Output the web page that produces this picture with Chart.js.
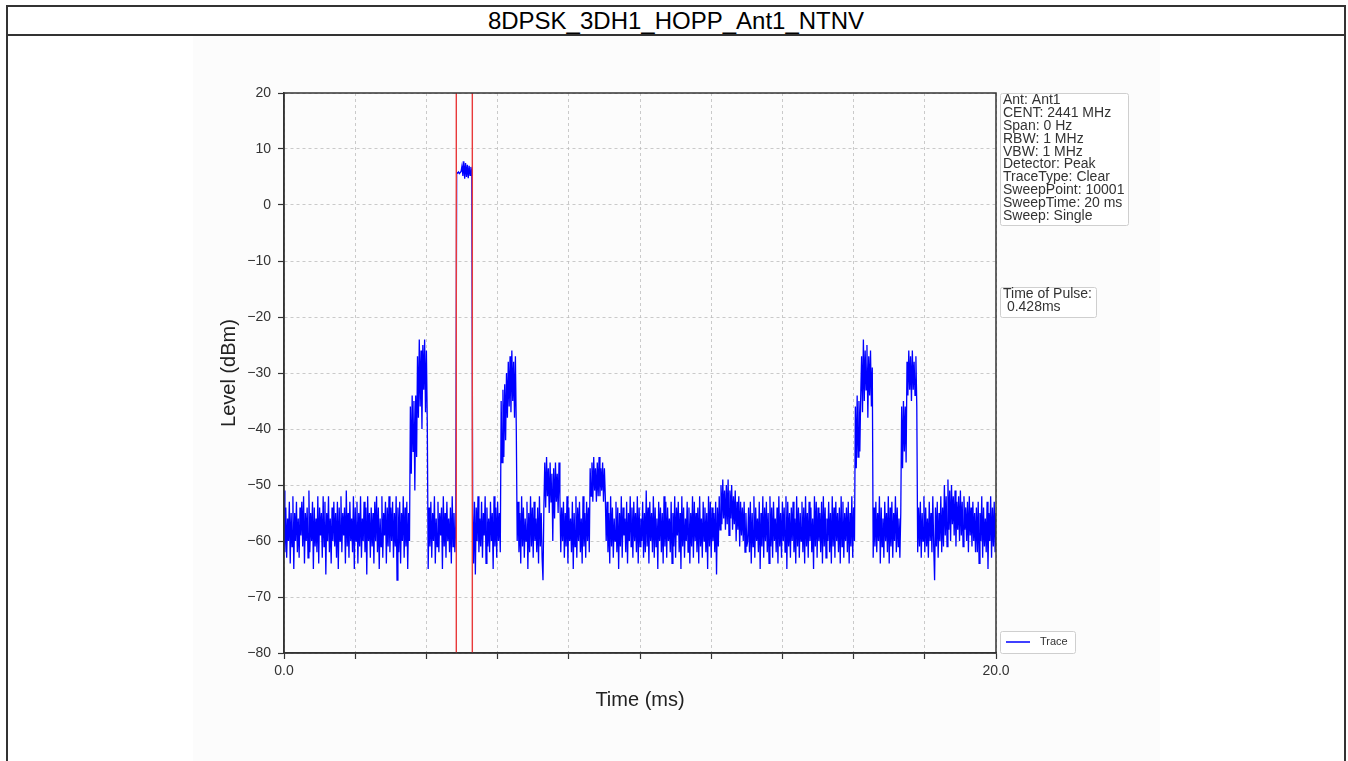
<!DOCTYPE html>
<html>
<head>
<meta charset="utf-8">
<script src="https://cdn.jsdelivr.net/npm/chart.js@4.4.1/dist/chart.umd.min.js"></script>
<style>
body { margin: 0; background: #fff; font-family: "Liberation Sans", Arial, sans-serif; }
#frame { position: absolute; left: 6px; top: 5px; width: 1336px; height: 800px; border: 2px solid #333; border-bottom: none; }
#title { height: 27px; border-bottom: 2px solid #333; text-align: center; font-size: 24px; line-height: 28px; color: #000; overflow: hidden; }
#fig { position: absolute; left: 193px; top: 36px; width: 967px; height: 725px; background: #fcfcfc; }
</style>
</head>
<body>
<div id="frame"><div id="title">8DPSK_3DH1_HOPP_Ant1_NTNV</div></div>
<div id="fig"><canvas id="chart" width="967" height="725" style="width:967px;height:725px"></canvas></div>
<script>
// sweep, ms (start / stop); trace samples are evenly spaced across it
var sweepMs = [0, 20];

// trace level, dBm (0.025 ms per sample)
var traceLevels = [
  // noise 0 - 3.5 ms
  -51, -62, -54, -63, -56, -60, -53, -64, -55, -61,
  -52, -65, -55, -60, -53, -62, -56, -63, -54, -59,
  -53, -61, -52, -64, -55, -60, -54, -63, -51, -62,
  -55, -60, -53, -65, -54, -61, -56, -62, -52, -64,
  -54, -59, -55, -63, -52, -61, -53, -66, -55, -60,
  -52, -62, -56, -64, -54, -60, -53, -61, -55, -63,
  -53, -65, -54, -60, -52, -62, -55, -59, -54, -64,
  -51, -61, -55, -63, -53, -60, -56, -62, -52, -65,
  -54, -60, -53, -64, -55, -61, -52, -63, -56, -60,
  -53, -62, -54, -66, -52, -60, -55, -63, -54, -61,
  -55, -64, -53, -60, -52, -62, -54, -65, -56, -61,
  -52, -63, -55, -59, -53, -64, -54, -61, -52, -62,
  -54, -60, -53, -63, -55, -61, -52, -67, -54, -62,
  -53, -64, -55, -60, -52, -63, -54, -61, -53, -65,
  -55, -60,
  // burst 1
  -36, -48, -34, -44, -35, -51, -34, -45,
  -27, -38, -24, -36, -26, -40, -25, -33, -24, -37, -26, -39,
  // noise
  -65, -54, -61, -53, -63, -55, -60, -52, -64, -56,
  -61, -53, -62, -55, -59, -54, -65, -52, -61, -55,
  -63, -53, -60, -56, -62, -54, -64, -52, -61, -55,
  -62, -57,
  // measured pulse
  5.8, 5.7, 5.9, 5.6, 5.8, 6.0, 7.0, 5.2, 7.8, 4.7, 7.5, 5.0, 7.2, 4.8, 7.0, 5.3, 6.8, 5.9,
  // noise
  -55, -64, -53, -66, -54, -60, -52, -62, -56, -61,
  -53, -63, -55, -59, -52, -64, -54, -61, -56, -62,
  -53, -60, -55, -65, -52, -61, -54, -63, -53, -60,
  -55, -62,
  // burst 2
  -35, -46, -33, -45, -32, -42, -30,
  -38, -28, -36, -27, -37, -26, -35, -28, -38, -27, -40,
  // noise
  -60, -53, -62, -55, -64, -52, -61, -54, -63, -56,
  -60, -53, -65, -55, -62, -52, -61, -54, -63, -53,
  -60, -56, -62, -54, -64, -52, -61, -55, -63, -67,
  -54,
  // bump
  -46, -54, -45, -52, -47, -55, -46, -53, -48, -60,
  -47, -56, -46, -53, -48, -55, -46, -52,
  // noise
  -62, -54, -60, -53, -63, -55, -61, -52, -64, -54,
  -60, -56, -62, -53, -65, -55, -61, -52, -63, -54,
  -60, -53, -62, -56, -64, -52, -61, -55, -63, -53,
  -60, -54, -62,
  // bump
  -47, -52, -46, -53, -45, -51, -47, -53, -46, -52,
  -45, -52, -47, -51, -46, -53, -47, -52,
  // noise
  -60, -53, -62, -55, -64, -52, -61, -54, -63, -56,
  -60, -53, -62, -54, -65, -55, -61, -52, -63, -54,
  -59, -56, -62, -53, -64, -55, -60, -52, -61, -54,
  -63, -53, -60, -55, -62, -52, -64, -54, -61, -56,
  -60, -53, -63, -55, -62, -51, -61, -54, -64, -53,
  -60, -55, -62, -52, -63, -54, -61, -56, -65, -53,
  -60, -54, -62, -55, -64, -52, -61, -53, -63, -54,
  -60, -56, -62, -53, -64, -55, -61, -52, -63, -54,
  -59, -53, -62, -55, -65, -52, -61, -54, -63, -56,
  -60, -53, -62, -54, -64, -55, -61, -52, -63, -53,
  -60, -55, -62, -54, -64, -52, -61, -56, -63, -53,
  -60, -54, -62, -55, -65, -52, -61, -53, -63, -54,
  -60, -55, -62, -53, -66, -54, -61,
  // raised noise
  -52, -58, -50, -57, -49, -56, -51, -58, -50, -57,
  -49, -59, -51, -56, -50, -58, -52, -57, -51, -60,
  -53, -58, -52, -61, -53, -59, -54, -60, -53, -62,
  -55, -61,
  // noise
  -60, -54, -62, -53, -64, -55, -61, -52, -63, -54,
  -60, -56, -62, -53, -65, -55, -61, -52, -63, -54,
  -60, -53, -62, -55, -64, -52, -61, -54, -63, -53,
  -60, -56, -62, -54, -64, -52, -61, -55, -63, -53,
  -60, -54, -62, -52, -65, -53, -61, -55, -63, -54,
  -60, -53, -62, -56, -64, -52, -61, -54, -63, -55,
  -60, -53, -62, -54, -64, -52, -61, -55, -63, -53,
  -60, -54, -62, -56, -65, -52, -61, -53, -63, -54,
  -60, -55, -62, -53, -64, -52, -61, -54, -63, -56,
  -60, -53, -62, -55, -64, -52, -61, -54, -63, -53,
  -60, -55, -62, -54, -64, -52, -61, -53, -63, -55,
  -60, -54, -62, -53, -64, -55, -61, -52, -63, -54,
  -60,
  // burst 3
  -36, -47, -34, -45, -35, -44, -34,
  -27, -37, -24, -35, -26, -33, -25, -38, -27, -34, -26, -36, -29,
  // noise
  -63, -54, -61, -53, -62, -55, -60, -52, -64, -54,
  -61, -56, -63, -53, -60, -55, -62, -52, -64, -54,
  -61, -53, -63, -55, -60, -52, -62, -54, -61, -56,
  -63, -55,
  // burst 4
  -36, -47, -35, -44, -36, -46,
  -28, -34, -26, -33, -27, -35, -26, -33, -28, -34, -27, -36,
  // noise
  -62, -54, -61, -53, -63, -55, -60, -52, -62, -54,
  -61, -56, -63, -53, -60, -55, -62, -52, -61, -67,
  -54, -61, -53, -63, -55, -60, -52, -62, -54, -61,
  // raised noise
  -50, -59, -52, -61, -49, -58, -51, -60, -50, -57,
  -52, -59, -51, -61, -53, -58, -52, -60, -51, -59,
  -53, -61, -52, -58, -54, -60, -53, -62, -52, -59,
  -54, -61, -53, -60, -55, -62,
  // noise
  -54, -62, -53, -64, -55, -60, -52, -63, -54, -61,
  -56, -62, -53, -65, -55, -60, -52, -63, -54, -61,
  -53, -62, -55
];

// red markers around the pulse, ms
var cursorTimes = [4.84, 5.29];

var yRange = [-80, 20];
var yStep = 10;
var xStep = 2;
var xLabelled = [0, 20];

var infoLines = ['Ant: Ant1', 'CENT: 2441 MHz', 'Span: 0 Hz', 'RBW: 1 MHz', 'VBW: 1 MHz',
  'Detector: Peak', 'TraceType: Clear', 'SweepPoint: 10001', 'SweepTime: 20 ms', 'Sweep: Single'];
var pulseLines = ['Time of Pulse:', ' 0.428ms'];

var FONT = '"Liberation Sans", Arial, sans-serif';

var dt = (sweepMs[1] - sweepMs[0]) / (traceLevels.length - 1);
var tracePts = traceLevels.map(function(v, i) { return { x: sweepMs[0] + i * dt, y: v }; });

var datasets = cursorTimes.map(function(t) {
  return {
    label: 'cursor',
    data: [{ x: t, y: yRange[0] }, { x: t, y: yRange[1] }],
    borderColor: '#e8393a',
    borderWidth: 1.4,
    pointRadius: 0,
    order: 0
  };
});
datasets.push({
  label: 'Trace',
  data: tracePts,
  borderColor: '#0000ff',
  borderWidth: 1.3,
  pointRadius: 0,
  tension: 0,
  order: 1
});

function textBox(ctx, x, y, w, h, lines, lineH, size) {
  ctx.fillStyle = '#fff';
  ctx.strokeStyle = '#cfcfcf';
  ctx.lineWidth = 1;
  ctx.beginPath();
  ctx.roundRect(x + 0.5, y + 0.5, w, h, 2);
  ctx.fill();
  ctx.stroke();
  ctx.fillStyle = '#333';
  ctx.font = size + 'px ' + FONT;
  ctx.textBaseline = 'middle';
  ctx.textAlign = 'left';
  lines.forEach(function(s, k) { ctx.fillText(s, x + 3, y + 7.5 + k * lineH); });
}

var overlays = {
  id: 'overlays',
  afterDraw: function(chart) {
    var ctx = chart.ctx, a = chart.chartArea;
    ctx.save();
    ctx.strokeStyle = '#333';
    ctx.lineWidth = 1.5;
    ctx.strokeRect(a.left, a.top, a.right - a.left, a.bottom - a.top);

    textBox(ctx, a.right + 4, a.top, 128, 132, infoLines, 12.8, 14);
    textBox(ctx, a.right + 4, a.top + 194, 96, 30, pulseLines, 13, 14);

    // legend
    var lx = a.right + 4, ly = a.bottom - 22;
    ctx.fillStyle = '#fff';
    ctx.strokeStyle = '#cfcfcf';
    ctx.lineWidth = 1;
    ctx.beginPath();
    ctx.roundRect(lx + 0.5, ly + 0.5, 75, 22, 2);
    ctx.fill();
    ctx.stroke();
    var tr = chart.data.datasets[chart.data.datasets.length - 1];
    ctx.strokeStyle = tr.borderColor;
    ctx.lineWidth = 1.5;
    ctx.beginPath();
    ctx.moveTo(lx + 6, ly + 11);
    ctx.lineTo(lx + 30, ly + 11);
    ctx.stroke();
    ctx.fillStyle = '#333';
    ctx.font = '11px ' + FONT;
    ctx.textBaseline = 'middle';
    ctx.fillText(tr.label, lx + 40, ly + 11);
    ctx.restore();
  }
};

new Chart(document.getElementById('chart'), {
  type: 'line',
  data: { datasets: datasets },
  options: {
    responsive: false,
    animation: false,
    events: [],
    parsing: false,
    layout: { padding: { left: 24, top: 57, right: 164, bottom: 49 } },
    plugins: { legend: { display: false }, tooltip: { enabled: false } },
    scales: {
      x: {
        type: 'linear',
        min: sweepMs[0],
        max: sweepMs[1],
        afterFit: function(s) { s.height = 59; },
        ticks: {
          stepSize: xStep,
          autoSkip: false,
          maxRotation: 0,
          padding: 4,
          color: '#333',
          font: { family: FONT, size: 14 },
          callback: function(v) { return xLabelled.indexOf(v) >= 0 ? v.toFixed(1) : ''; }
        },
        grid: { color: '#bdbdbd', lineWidth: 0.8, tickLength: 6, tickColor: '#333', tickWidth: 1.2 },
        border: { color: '#333', width: 1.5, dash: [3, 3] },
        title: { display: true, text: 'Time (ms)', color: '#222', padding: 0, font: { family: FONT, size: 20 } }
      },
      y: {
        type: 'linear',
        min: yRange[0],
        max: yRange[1],
        afterFit: function(s) { s.width = 67; },
        ticks: {
          stepSize: yStep,
          padding: 7,
          color: '#333',
          font: { family: FONT, size: 14 },
          callback: function(v) { return v < 0 ? '\u2212' + Math.abs(v) : String(v); }
        },
        grid: { color: '#bdbdbd', lineWidth: 0.8, tickLength: 6, tickColor: '#333', tickWidth: 1.2 },
        border: { color: '#333', width: 1.5, dash: [3, 3] },
        title: { display: true, text: 'Level (dBm)', color: '#222', padding: 0, font: { family: FONT, size: 20 } }
      }
    }
  },
  plugins: [overlays]
});
</script>
</body>
</html>
